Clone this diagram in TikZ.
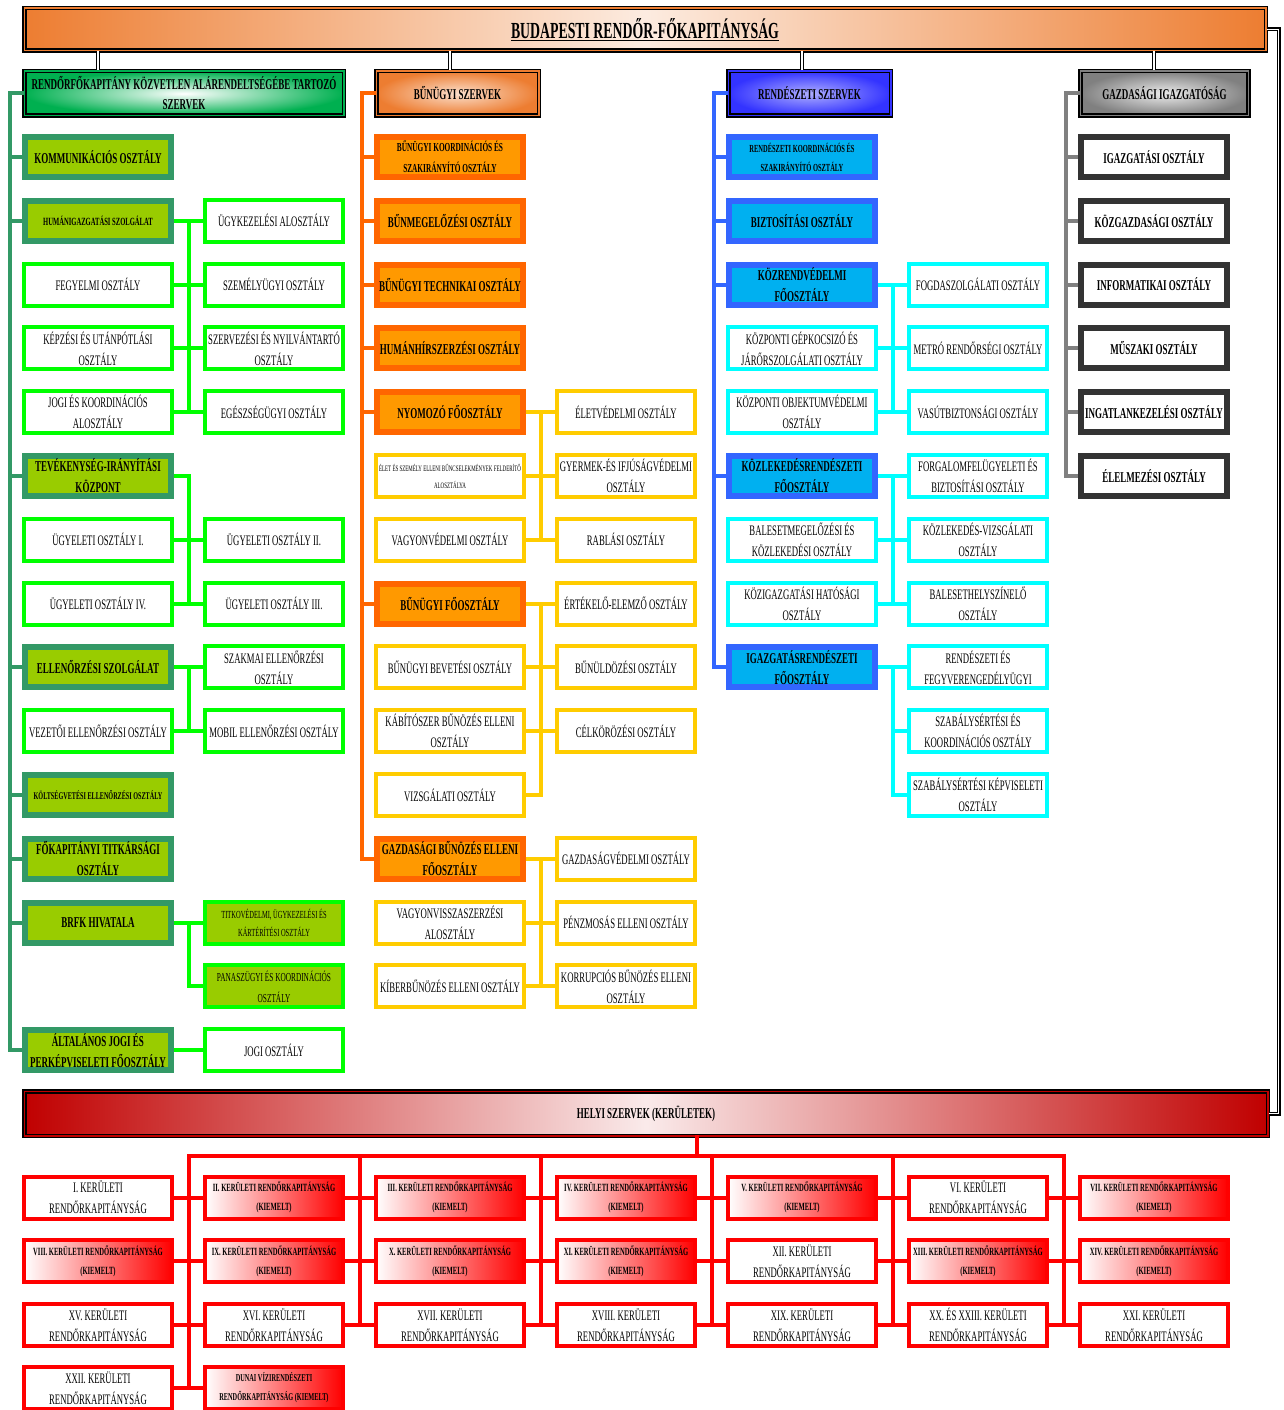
\documentclass[tikz,border=0pt]{standalone}
\usepackage{fontspec}
\setmainfont{Liberation Serif}[FakeStretch=0.6]
\usepackage{tikz}
\usetikzlibrary{positioning}

\definecolor{tgreen}{HTML}{339966}
\definecolor{lgreen}{HTML}{99CC00}
\definecolor{bgreen}{HTML}{00FF00}
\definecolor{hgreen}{HTML}{00B050}
\definecolor{dorange}{HTML}{FF6600}
\definecolor{lorange}{HTML}{FF9900}
\definecolor{yel}{HTML}{FFCC00}
\definecolor{torange}{HTML}{ED7D31}
\definecolor{blu}{HTML}{3366FF}
\definecolor{cblu}{HTML}{00B0F0}
\definecolor{cyn}{HTML}{00FFFF}
\definecolor{hblu}{HTML}{3333FF}
\definecolor{gry}{HTML}{808080}
\definecolor{dgry}{HTML}{333333}
\definecolor{dred}{HTML}{C00000}
\definecolor{rd}{HTML}{FF0000}

\newcommand{\regtext}{\fontsize{14.5}{21}\selectfont}
\newcommand{\boldtext}{\fontsize{15}{21}\selectfont\bfseries}
\newcommand{\kistext}{\fontsize{11}{19}\selectfont\bfseries}
\newcommand{\fejtext}{\fontsize{15}{20}\selectfont\bfseries}

\begin{document}
\begin{tikzpicture}[x=1pt, y=-1pt, node distance=29pt]
\tikzstyle{egyseg}=[rectangle, inner sep=1pt, align=center]
\tikzstyle{fejlec}=[egyseg, draw=black, line width=1.5pt, double distance=1.5pt, font=\fejtext]
\tikzstyle{wide}=[minimum width=148pt]
\tikzstyle{narrow}=[minimum width=138pt]
\tikzstyle{fobox}=[egyseg, line width=6pt, minimum width=146pt, minimum height=40pt, font=\boldtext]
\tikzstyle{albox}=[egyseg, line width=4pt, minimum height=42pt, fill=white, font=\regtext]
\tikzstyle{kozvfo}=[fobox, draw=tgreen, fill=lgreen]
\tikzstyle{kozval}=[albox, draw=bgreen]
\tikzstyle{bunfo}=[fobox, draw=dorange, fill=lorange]
\tikzstyle{bunal}=[albox, draw=yel]
\tikzstyle{rendfo}=[fobox, draw=blu, fill=cblu]
\tikzstyle{rendal}=[albox, draw=cyn]
\tikzstyle{gazdo}=[fobox, draw=dgry, fill=white]
\tikzstyle{kerulet}=[albox, draw=rd]
\tikzstyle{kiemelt}=[albox, draw=rd, left color=white, right color=rd, font=\kistext]

\tikzstyle{gtrunk}=[draw=tgreen, line width=4pt]
\tikzstyle{gbranch}=[draw=bgreen, line width=4pt]
\tikzstyle{otrunk}=[draw=dorange, line width=4pt]
\tikzstyle{obranch}=[draw=yel, line width=4pt]
\tikzstyle{btrunk}=[draw=blu, line width=4pt]
\tikzstyle{bbranch}=[draw=cyn, line width=4pt]
\tikzstyle{ytrunk}=[draw=gry, line width=4pt]
\tikzstyle{rline}=[draw=rd, line width=4pt, line cap=rect]
\tikzstyle{dbl}=[draw=black, line width=1.2pt, double=white, double distance=1.6pt]

\useasboundingbox (0,0) rectangle (1284,1410);

% title and the four directorates
\node[fejlec, double=torange, left color=torange, right color=torange, middle color=torange!15!white,
  minimum width=1241.5pt, minimum height=42.5pt] (brfk) at (645,29.5)
  {\fontsize{23}{26}\selectfont\underline{BUDAPESTI RENDŐR-FŐKAPITÁNYSÁG}};
\node[fejlec, double=hgreen, inner color=white, outer color=hgreen, minimum width=319.5pt, minimum height=44.5pt]
  (kozv) at (184,93.5) {RENDŐRFŐKAPITÁNY KÖZVETLEN ALÁRENDELTSÉGÉBE TARTOZÓ\\SZERVEK};
\node[fejlec, double=torange, inner color=torange!25!white, outer color=torange, minimum width=162.5pt, minimum height=44.5pt]
  (bun) at (457.5,93.5) {BŰNÜGYI SZERVEK};
\node[fejlec, double=hblu, inner color=hblu!40!white, outer color=hblu, minimum width=162.5pt, minimum height=44.5pt]
  (rend) at (809.5,93.5) {RENDÉSZETI SZERVEK};
\node[fejlec, double=gry, inner color=gry!15!white, outer color=gry, minimum width=168pt, minimum height=44.5pt]
  (gazd) at (1164.5,93.5) {GAZDASÁGI IGAZGATÓSÁG};

% kozvetlen alarendeltseg
\node[kozvfo] (kommun) at (98,157) {KOMMUNIKÁCIÓS OSZTÁLY};
\node[kozvfo, font=\fontsize{11}{12}\selectfont\bfseries] (human) at (98,220.8) {HUMÁNIGAZGATÁSI SZOLGÁLAT};
\node[kozval, narrow, right=of human] (ugyk) {ÜGYKEZELÉSI ALOSZTÁLY};
\node[kozval, wide] (fegy) at (98,284.6) {FEGYELMI OSZTÁLY};
\node[kozval, narrow, right=of fegy] (szemu) {SZEMÉLYÜGYI OSZTÁLY};
\node[kozval, wide] (kepz) at (98,348.4) {KÉPZÉSI ÉS UTÁNPÓTLÁSI\\OSZTÁLY};
\node[kozval, narrow, right=of kepz] (szerv) {SZERVEZÉSI ÉS NYILVÁNTARTÓ\\OSZTÁLY};
\node[kozval, wide] (jogik) at (98,412.2) {JOGI ÉS KOORDINÁCIÓS\\ALOSZTÁLY};
\node[kozval, narrow, right=of jogik] (egesz) {EGÉSZSÉGÜGYI OSZTÁLY};
\node[kozvfo] (tevek) at (98,476) {TEVÉKENYSÉG-IRÁNYÍTÁSI\\KÖZPONT};
\node[kozval, wide] (ugy1) at (98,539.8) {ÜGYELETI OSZTÁLY I.};
\node[kozval, narrow, right=of ugy1] (ugy2) {ÜGYELETI OSZTÁLY II.};
\node[kozval, wide] (ugy4) at (98,603.6) {ÜGYELETI OSZTÁLY IV.};
\node[kozval, narrow, right=of ugy4] (ugy3) {ÜGYELETI OSZTÁLY III.};
\node[kozvfo] (ellen) at (98,667.4) {ELLENŐRZÉSI SZOLGÁLAT};
\node[kozval, narrow, right=of ellen] (szakm) {SZAKMAI ELLENŐRZÉSI\\OSZTÁLY};
\node[kozval, wide] (vezet) at (98,731.2) {VEZETŐI ELLENŐRZÉSI OSZTÁLY};
\node[kozval, narrow, right=of vezet] (mobil) {MOBIL ELLENŐRZÉSI OSZTÁLY};
\node[kozvfo, font=\fontsize{10.3}{12}\selectfont\bfseries] (koltsv) at (98,795) {KÖLTSÉGVETÉSI ELLENŐRZÉSI OSZTÁLY};
\node[kozvfo] (titk) at (98,858.8) {FŐKAPITÁNYI TITKÁRSÁGI\\OSZTÁLY};
\node[kozvfo] (hivat) at (98,922.6) {BRFK HIVATALA};
\node[kozval, narrow, fill=lgreen, right=of hivat, font=\fontsize{10.8}{18}\selectfont] (titkov)
  {TITKOVÉDELMI, ÜGYKEZELÉSI ÉS\\KÁRTÉRÍTÉSI OSZTÁLY};
\node[kozval, narrow, fill=lgreen, font=\fontsize{12.2}{21}\selectfont] (panasz) at (274,986.4)
  {PANASZÜGYI ÉS KOORDINÁCIÓS\\OSZTÁLY};
\node[kozvfo] (altjogi) at (98,1050.2) {ÁLTALÁNOS JOGI ÉS\\PERKÉPVISELETI FŐOSZTÁLY};
\node[kozval, narrow, right=of altjogi] (jogi) {JOGI OSZTÁLY};

% bunugyi szervek
\node[bunfo, font=\fontsize{12.2}{21}\selectfont\bfseries] (bkoord) at (450,157) {BŰNÜGYI KOORDINÁCIÓS ÉS\\SZAKIRÁNYÍTÓ OSZTÁLY};
\node[bunfo] (bmeg) at (450,220.8) {BŰNMEGELŐZÉSI OSZTÁLY};
\node[bunfo] (btech) at (450,284.6) {BŰNÜGYI TECHNIKAI OSZTÁLY};
\node[bunfo] (humhir) at (450,348.4) {HUMÁNHÍRSZERZÉSI OSZTÁLY};
\node[bunfo] (nyomozo) at (450,412.2) {NYOMOZÓ FŐOSZTÁLY};
\node[bunal, narrow, right=of nyomozo] (eletv) {ÉLETVÉDELMI OSZTÁLY};
\node[bunal, wide, font=\fontsize{8.3}{17}\selectfont] (eletsz) at (450,476)
  {ÉLET ÉS SZEMÉLY ELLENI BŰNCSELEKMÉNYEK FELDERÍTŐ\\ALOSZTÁLYA};
\node[bunal, narrow, right=of eletsz] (gyerm) {GYERMEK-ÉS IFJÚSÁGVÉDELMI\\OSZTÁLY};
\node[bunal, wide] (vagyon) at (450,539.8) {VAGYONVÉDELMI OSZTÁLY};
\node[bunal, narrow, right=of vagyon] (rablas) {RABLÁSI OSZTÁLY};
\node[bunfo] (bfo) at (450,603.6) {BŰNÜGYI FŐOSZTÁLY};
\node[bunal, narrow, right=of bfo] (ertek) {ÉRTÉKELŐ-ELEMZŐ OSZTÁLY};
\node[bunal, wide] (bbev) at (450,667.4) {BŰNÜGYI BEVETÉSI OSZTÁLY};
\node[bunal, narrow, right=of bbev] (buld) {BŰNÜLDÖZÉSI OSZTÁLY};
\node[bunal, wide] (kabit) at (450,731.2) {KÁBÍTÓSZER BŰNÖZÉS ELLENI\\OSZTÁLY};
\node[bunal, narrow, right=of kabit] (celk) {CÉLKÖRÖZÉSI OSZTÁLY};
\node[bunal, wide] (vizsg) at (450,795) {VIZSGÁLATI OSZTÁLY};
\node[bunfo] (gazdfo) at (450,858.8) {GAZDASÁGI BŰNÖZÉS ELLENI\\FŐOSZTÁLY};
\node[bunal, narrow, right=of gazdfo] (gazdv) {GAZDASÁGVÉDELMI OSZTÁLY};
\node[bunal, wide] (vagyv) at (450,922.6) {VAGYONVISSZASZERZÉSI\\ALOSZTÁLY};
\node[bunal, narrow, right=of vagyv] (penzm) {PÉNZMOSÁS ELLENI OSZTÁLY};
\node[bunal, wide] (kiber) at (450,986.4) {KÍBERBŰNÖZÉS ELLENI OSZTÁLY};
\node[bunal, narrow, right=of kiber] (korr) {KORRUPCIÓS BŰNÖZÉS ELLENI\\OSZTÁLY};

% rendeszeti szervek
\node[rendfo, font=\fontsize{10.8}{19}\selectfont\bfseries] (rkoord) at (802,157) {RENDÉSZETI KOORDINÁCIÓS ÉS\\SZAKIRÁNYÍTÓ OSZTÁLY};
\node[rendfo] (bizt) at (802,220.8) {BIZTOSÍTÁSI OSZTÁLY};
\node[rendfo] (kozrend) at (802,284.6) {KÖZRENDVÉDELMI\\FŐOSZTÁLY};
\node[rendal, narrow, right=of kozrend] (fogda) {FOGDASZOLGÁLATI OSZTÁLY};
\node[rendal, wide] (gepk) at (802,348.4) {KÖZPONTI GÉPKOCSIZÓ ÉS\\JÁRŐRSZOLGÁLATI OSZTÁLY};
\node[rendal, narrow, right=of gepk] (metro) {METRÓ RENDŐRSÉGI OSZTÁLY};
\node[rendal, wide] (objekt) at (802,412.2) {KÖZPONTI OBJEKTUMVÉDELMI\\OSZTÁLY};
\node[rendal, narrow, right=of objekt] (vasut) {VASÚTBIZTONSÁGI OSZTÁLY};
\node[rendfo] (kozl) at (802,476) {KÖZLEKEDÉSRENDÉSZETI\\FŐOSZTÁLY};
\node[rendal, narrow, right=of kozl] (forg) {FORGALOMFELÜGYELETI ÉS\\BIZTOSÍTÁSI OSZTÁLY};
\node[rendal, wide] (balm) at (802,539.8) {BALESETMEGELŐZÉSI ÉS\\KÖZLEKEDÉSI OSZTÁLY};
\node[rendal, narrow, right=of balm] (kvizsg) {KÖZLEKEDÉS-VIZSGÁLATI\\OSZTÁLY};
\node[rendal, wide] (kozig) at (802,603.6) {KÖZIGAZGATÁSI HATÓSÁGI\\OSZTÁLY};
\node[rendal, narrow, right=of kozig] (helysz) {BALESETHELYSZÍNELŐ\\OSZTÁLY};
\node[rendfo] (igrend) at (802,667.4) {IGAZGATÁSRENDÉSZETI\\FŐOSZTÁLY};
\node[rendal, narrow, right=of igrend] (fegyv) {RENDÉSZETI ÉS\\FEGYVERENGEDÉLYÜGYI};
\node[rendal, narrow] (szabk) at (978,731.2) {SZABÁLYSÉRTÉSI ÉS\\KOORDINÁCIÓS OSZTÁLY};
\node[rendal, narrow] (szabkep) at (978,795) {SZABÁLYSÉRTÉSI KÉPVISELETI\\OSZTÁLY};

% gazdasagi igazgatosag
\node[gazdo] (igazg) at (1154,157) {IGAZGATÁSI OSZTÁLY};
\node[gazdo] (kozgazd) at (1154,220.8) {KÖZGAZDASÁGI OSZTÁLY};
\node[gazdo] (inform) at (1154,284.6) {INFORMATIKAI OSZTÁLY};
\node[gazdo] (muszaki) at (1154,348.4) {MŰSZAKI OSZTÁLY};
\node[gazdo] (ingatl) at (1154,412.2) {INGATLANKEZELÉSI OSZTÁLY};
\node[gazdo] (elelm) at (1154,476) {ÉLELMEZÉSI OSZTÁLY};

% helyi szervek
\node[fejlec, double=dred, left color=dred, right color=dred, middle color=dred!8!white,
  minimum width=1243.5pt, minimum height=44.5pt, font=\fontsize{15}{16}\selectfont\bfseries]
  (helyi) at (646,1113.5) {HELYI SZERVEK (KERÜLETEK)};

\node[kerulet, wide] (k1) at (98,1197.5) {I. KERÜLETI\\RENDŐRKAPITÁNYSÁG};
\node[kiemelt, narrow, right=of k1] (k2) {II. KERÜLETI RENDŐRKAPITÁNYSÁG\\(KIEMELT)};
\node[kiemelt, wide, right=of k2] (k3) {III. KERÜLETI RENDŐRKAPITÁNYSÁG\\(KIEMELT)};
\node[kiemelt, narrow, right=of k3] (k4) {IV. KERÜLETI RENDŐRKAPITÁNYSÁG\\(KIEMELT)};
\node[kiemelt, wide, right=of k4] (k5) {V. KERÜLETI RENDŐRKAPITÁNYSÁG\\(KIEMELT)};
\node[kerulet, narrow, right=of k5] (k6) {VI. KERÜLETI\\RENDŐRKAPITÁNYSÁG};
\node[kiemelt, wide, right=of k6] (k7) {VII. KERÜLETI RENDŐRKAPITÁNYSÁG\\(KIEMELT)};

\node[kiemelt, wide] (k8) at (98,1261) {VIII. KERÜLETI RENDŐRKAPITÁNYSÁG\\(KIEMELT)};
\node[kiemelt, narrow, right=of k8] (k9) {IX. KERÜLETI RENDŐRKAPITÁNYSÁG\\(KIEMELT)};
\node[kiemelt, wide, right=of k9] (k10) {X. KERÜLETI RENDŐRKAPITÁNYSÁG\\(KIEMELT)};
\node[kiemelt, narrow, right=of k10] (k11) {XI. KERÜLETI RENDŐRKAPITÁNYSÁG\\(KIEMELT)};
\node[kerulet, wide, right=of k11] (k12) {XII. KERÜLETI\\RENDŐRKAPITÁNYSÁG};
\node[kiemelt, narrow, right=of k12] (k13) {XIII. KERÜLETI RENDŐRKAPITÁNYSÁG\\(KIEMELT)};
\node[kiemelt, wide, right=of k13] (k14) {XIV. KERÜLETI RENDŐRKAPITÁNYSÁG\\(KIEMELT)};

\node[kerulet, wide] (k15) at (98,1325) {XV. KERÜLETI\\RENDŐRKAPITÁNYSÁG};
\node[kerulet, narrow, right=of k15] (k16) {XVI. KERÜLETI\\RENDŐRKAPITÁNYSÁG};
\node[kerulet, wide, right=of k16] (k17) {XVII. KERÜLETI\\RENDŐRKAPITÁNYSÁG};
\node[kerulet, narrow, right=of k17] (k18) {XVIII. KERÜLETI\\RENDŐRKAPITÁNYSÁG};
\node[kerulet, wide, right=of k18] (k19) {XIX. KERÜLETI\\RENDŐRKAPITÁNYSÁG};
\node[kerulet, narrow, right=of k19] (k20) {XX. ÉS XXIII. KERÜLETI\\RENDŐRKAPITÁNYSÁG};
\node[kerulet, wide, right=of k20] (k21) {XXI. KERÜLETI\\RENDŐRKAPITÁNYSÁG};

\node[kerulet, wide] (k22) at (98,1388) {XXII. KERÜLETI\\RENDŐRKAPITÁNYSÁG};
\node[kiemelt, narrow, right=of k22, font=\fontsize{10.5}{19}\selectfont\bfseries] (duna)
  {DUNAI VÍZIRENDÉSZETI\\RENDŐRKAPITÁNYSÁG (KIEMELT)};

% connectors from the top
\foreach \n/\m in {kommun/kozv,bkoord/bun,rkoord/rend,igazg/gazd}
  \draw[dbl] (\n |- brfk.south) -- (\n |- \m.north);
\draw[dbl] (brfk.east) -- ++(12,0) |- (helyi.east);

\coordinate (gsor) at (9.5,0);
\coordinate (gag) at (188.5,0);
\coordinate (osor) at (362,0);
\coordinate (oag) at (540.5,0);
\coordinate (bsor) at (714,0);
\coordinate (bag) at (892.5,0);
\coordinate (ysor) at (1066,0);

\draw[gtrunk] (kozv.west) -| (gsor |- altjogi.west) -- (altjogi.west);
\foreach \n in {kommun,human,tevek,ellen,koltsv,titk,hivat}
  \draw[gtrunk] (\n.west) -- (gsor |- \n.west);
\foreach \a/\b in {human/ugyk,fegy/szemu,kepz/szerv,jogik/egesz,ugy1/ugy2,ugy4/ugy3,ellen/szakm,vezet/mobil,hivat/titkov,altjogi/jogi}
  \draw[gbranch] (\a.east) -- (\b.west);
\draw[gbranch] (gag |- human.east) -- (gag |- jogik.east);
\draw[gbranch] (tevek.east) -| (gag |- ugy4.east);
\draw[gbranch] (gag |- ellen.east) -- (gag |- vezet.east);
\draw[gbranch] (gag |- hivat.east) |- (panasz.west);

\draw[otrunk] (bun.west) -| (osor |- gazdfo.west) -- (gazdfo.west);
\foreach \n in {bkoord,bmeg,btech,humhir,nyomozo,bfo}
  \draw[otrunk] (\n.west) -- (osor |- \n.west);
\foreach \a/\b in {nyomozo/eletv,eletsz/gyerm,vagyon/rablas,bfo/ertek,bbev/buld,kabit/celk,gazdfo/gazdv,vagyv/penzm,kiber/korr}
  \draw[obranch] (\a.east) -- (\b.west);
\draw[obranch] (oag |- nyomozo.east) -- (oag |- vagyon.east);
\draw[obranch] (oag |- bfo.east) |- (vizsg.east);
\draw[obranch] (oag |- gazdfo.east) -- (oag |- kiber.east);

\draw[btrunk] (rend.west) -| (bsor |- igrend.west) -- (igrend.west);
\foreach \n in {rkoord,bizt,kozrend,kozl}
  \draw[btrunk] (\n.west) -- (bsor |- \n.west);
\foreach \a/\b in {kozrend/fogda,gepk/metro,objekt/vasut,kozl/forg,balm/kvizsg,kozig/helysz,igrend/fegyv}
  \draw[bbranch] (\a.east) -- (\b.west);
\draw[bbranch] (bag |- kozrend.east) -- (bag |- objekt.east);
\draw[bbranch] (bag |- kozl.east) -- (bag |- kozig.east);
\draw[bbranch] (bag |- igrend.east) |- (szabkep.west);
\draw[bbranch] (bag |- szabk.west) -- (szabk.west);

\draw[ytrunk] (gazd.west) -| (ysor |- elelm.west) -- (elelm.west);
\foreach \n in {igazg,kozgazd,inform,muszaki,ingatl}
  \draw[ytrunk] (\n.west) -- (ysor |- \n.west);

% kerületek
\coordinate (rtop) at (697,1156);
\coordinate (v1) at (188.5,1156);
\coordinate (v2) at (360,1156);
\coordinate (v3) at (540.5,1156);
\coordinate (v4) at (711.5,1156);
\coordinate (v5) at (892.5,1156);
\coordinate (v6) at (1063.5,1156);
\draw[rline] (rtop |- helyi.south) -- (rtop);
\draw[rline] (v1) -- (v6);
\draw[rline] (v1) -- (v1 |- k22.east);
\foreach \i in {2,...,6}
  \draw[rline] (v\i) -- (v\i |- k15.east);
\foreach \a/\b in {k1/k2,k2/k3,k3/k4,k4/k5,k5/k6,k6/k7,k8/k9,k9/k10,k10/k11,k11/k12,k12/k13,k13/k14,k15/k16,k16/k17,k17/k18,k18/k19,k19/k20,k20/k21,k22/duna}
  \draw[rline] (\a.east) -- (\b.west);
\end{tikzpicture}
\end{document}
